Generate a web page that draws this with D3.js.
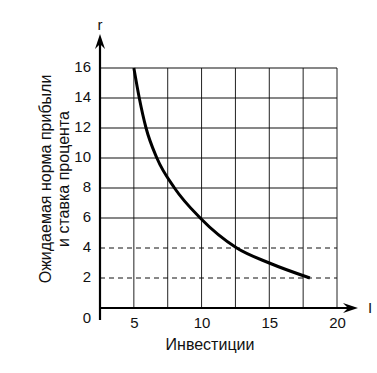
<!DOCTYPE html>
<html>
<head>
<meta charset="utf-8">
<script src="https://cdn.jsdelivr.net/npm/d3@7"></script>
<style>
  body { margin: 0; background: #fff; }
  text { font-family: "Liberation Sans", Arial, sans-serif; fill: #111; }
</style>
</head>
<body>
<div id="chart"></div>
<script>
// Data
const invest = [5, 5.4, 5.9, 6.7, 8.0, 9.9, 12.6, 15, 18];
const rate = [16, 14, 12, 10, 8, 6, 4, 3, 2];
const xTicks = [5, 10, 15, 20];
const yTicks = [0, 2, 4, 6, 8, 10, 12, 14, 16];
const xGrid = [5, 7.5, 10, 12.5, 15, 17.5, 20];
const yGridSolid = [6, 8, 10, 12, 14, 16];
const yGridDashed = [2, 4];

const width = 377;
const height = 373;

const svg = d3.select("#chart")
  .append("svg")
  .attr("width", width)
  .attr("height", height);

// Scales
const xScale = d3.scaleLinear().domain([2.5, 20]).range([100, 337]);
const yScale = d3.scaleLinear().domain([0, 16]).range([308, 68]);

// Grid
svg.append("g")
  .selectAll("line")
  .data(xGrid)
  .join("line")
  .attr("x1", d => xScale(d))
  .attr("x2", d => xScale(d))
  .attr("y1", yScale(16))
  .attr("y2", yScale(0))
  .attr("stroke", "#222")
  .attr("stroke-width", 1);

svg.append("g")
  .selectAll("line")
  .data(yGridSolid)
  .join("line")
  .attr("x1", xScale(2.5))
  .attr("x2", xScale(20))
  .attr("y1", d => yScale(d))
  .attr("y2", d => yScale(d))
  .attr("stroke", "#111")
  .attr("stroke-width", 1.2);

svg.append("g")
  .selectAll("line")
  .data(yGridDashed)
  .join("line")
  .attr("x1", xScale(2.5))
  .attr("x2", xScale(20))
  .attr("y1", d => yScale(d))
  .attr("y2", d => yScale(d))
  .attr("stroke", "#111")
  .attr("stroke-width", 1)
  .attr("stroke-dasharray", "5,4");

// Curve
const line = d3.line()
  .x((d, i) => xScale(invest[i]))
  .y(d => yScale(d))
  .curve(d3.curveMonotoneX);

svg.append("path")
  .datum(rate)
  .attr("d", line)
  .attr("fill", "none")
  .attr("stroke", "#000")
  .attr("stroke-width", 3);

// Axes
svg.append("line")
  .attr("x1", xScale(2.5)).attr("x2", xScale(2.5))
  .attr("y1", yScale(0) + 12).attr("y2", 40)
  .attr("stroke", "#000").attr("stroke-width", 2.2);
svg.append("path")
  .attr("d", `M${xScale(2.5)},34 L${xScale(2.5) - 5},49 L${xScale(2.5)},44 L${xScale(2.5) + 5},49 Z`)
  .attr("fill", "#000");

svg.append("line")
  .attr("x1", xScale(2.5)).attr("x2", 352)
  .attr("y1", yScale(0)).attr("y2", yScale(0))
  .attr("stroke", "#000").attr("stroke-width", 2);
svg.append("path")
  .attr("d", `M358,${yScale(0)} L343,${yScale(0) - 5} L348,${yScale(0)} L343,${yScale(0) + 5} Z`)
  .attr("fill", "#000");

const yAxis = d3.axisLeft(yScale).tickValues(yTicks).tickSize(0).tickPadding(9);
const gy = svg.append("g")
  .attr("transform", `translate(${xScale(2.5)},0)`)
  .call(yAxis);
gy.select(".domain").remove();
gy.selectAll("text")
  .style("font-size", "15px")
  .style("font-family", "Liberation Sans, Arial, sans-serif")
  .attr("fill", "#111")
  .attr("dy", d => d === 0 ? "0.95em" : "0.2em");

const xAxis = d3.axisBottom(xScale).tickValues(xTicks).tickSize(0).tickPadding(9);
const gx = svg.append("g")
  .attr("transform", `translate(0,${yScale(0)})`)
  .call(xAxis);
gx.select(".domain").remove();
gx.selectAll("text")
  .style("font-size", "15px")
  .style("font-family", "Liberation Sans, Arial, sans-serif")
  .attr("fill", "#111");

// Labels
svg.append("text")
  .attr("x", 100).attr("y", 30)
  .attr("text-anchor", "middle")
  .style("font-size", "15px")
  .text("r");

svg.append("text")
  .attr("x", 370).attr("y", 313)
  .attr("text-anchor", "middle")
  .style("font-size", "15px")
  .text("I");

svg.append("text")
  .attr("x", 210).attr("y", 350)
  .attr("text-anchor", "middle")
  .style("font-size", "16px")
  .text("Инвестиции");

const yLabel = svg.append("text")
  .attr("transform", "translate(51,179) rotate(-90)")
  .attr("text-anchor", "middle")
  .style("font-size", "16px");
yLabel.append("tspan").attr("x", 0).attr("dy", 0).text("Ожидаемая норма прибыли");
yLabel.append("tspan").attr("x", 0).attr("dy", "1.15em").text("и ставка процента");
</script>
</body>
</html>
